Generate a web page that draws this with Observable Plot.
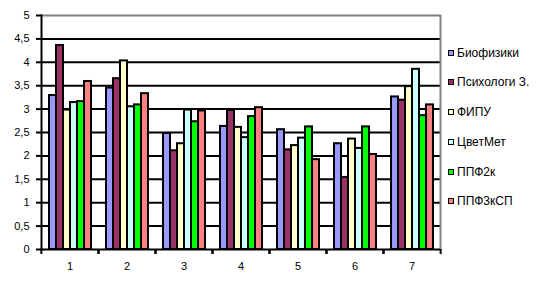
<!DOCTYPE html>
<html><head><meta charset="utf-8">
<script src="https://cdn.jsdelivr.net/npm/d3@7"></script>
<script src="https://cdn.jsdelivr.net/npm/@observablehq/plot@0.6"></script>
<style>
body{margin:0;background:#fff}
#wrap{position:relative;width:547px;height:285px;font-family:"Liberation Sans",Arial,sans-serif}
#legend{position:absolute;left:448px;top:0}
.item{position:absolute;left:0;height:14px;margin-top:-7px;display:flex;align-items:center;white-space:nowrap;font-size:12px;color:#000}
.sw{width:4px;height:4px;border:1.5px solid #000;margin-right:3px}
</style></head><body><div id="wrap"></div>
<script>
const groups = ["1","2","3","4","5","6","7"];
const series = ["Биофизики","Психологи З.","ФИПУ","ЦветМет","ППФ2к","ППФ3кСП"];
const colors = ["#9999FF","#993366","#FFFFCC","#CCFFFF","#00FF00","#FF8080"];
const biofiziki = [3.29,3.45,2.48,2.63,2.56,2.26,3.26];
const psikhologi = [4.36,3.65,2.11,2.97,2.13,1.54,3.19];
const fipu = [2.98,4.03,2.26,2.61,2.22,2.36,3.48];
const tsvetmet = [3.14,3.05,2.98,2.39,2.38,2.16,3.85];
const ppf2k = [3.16,3.09,2.73,2.84,2.62,2.62,2.86];
const ppf3ksp = [3.59,3.33,2.96,3.03,1.92,2.03,3.09];
const yTicks = [0,0.5,1,1.5,2,2.5,3,3.5,4,4.5,5];

const valuesBySeries = [biofiziki,psikhologi,fipu,tsvetmet,ppf2k,ppf3ksp];
const data = [];
groups.forEach((g,gi)=>series.forEach((s,si)=>data.push({group:g,series:s,value:valuesBySeries[si][gi]})));

const W=547,H=285,ML=40,MR=106,MT=15,MB=36;
const step=(W-ML-MR)/groups.length;
const fmt = d=>String(d).replace(".",",");

const chart = Plot.plot({
  width:W,height:H,marginLeft:ML,marginRight:MR,marginTop:MT,marginBottom:MB,
  style:{fontFamily:"Liberation Sans, Arial, sans-serif",fontSize:"11px",color:"#000",background:"#fff"},
  fx:{domain:groups,padding:0,label:null},
  x:{domain:series,paddingInner:0,paddingOuter:0.68,axis:null},
  y:{domain:[0,5],label:null},
  color:{domain:series,range:colors},
  marks:[
    Plot.ruleY(yTicks.filter(v=>v>0&&v<5),{stroke:"#000",strokeWidth:2}),
    Plot.ruleY([5],{stroke:"#808080",strokeWidth:2}),
    Plot.frame({anchor:"right",stroke:"#808080",strokeWidth:2,facetAnchor:"right"}),
    Plot.barY(data,{fx:"group",x:"series",y:"value",fill:"series",stroke:"#000",strokeWidth:2}),
    Plot.ruleY([0],{stroke:"#000",strokeWidth:2}),
    Plot.frame({anchor:"left",stroke:"#000",strokeWidth:2,facetAnchor:"left"}),
    Plot.axisY({ticks:yTicks,tickSize:5,tickPadding:7,strokeWidth:2,tickFormat:fmt,label:null}),
    Plot.axisFx({anchor:"bottom",tickSize:0,tickPadding:13,label:null}),
    Plot.axisFx({anchor:"bottom",tickSize:5,dx:-step/2,strokeWidth:2,tickFormat:()=>"",label:null}),
    Plot.axisFx({anchor:"bottom",tickSize:5,dx:step/2,strokeWidth:2,tickFormat:()=>"",label:null})
  ]
});
const wrap=document.getElementById("wrap");
wrap.appendChild(chart);
const legend=document.createElement("div");
legend.id="legend";
series.forEach((s,i)=>{
  const it=document.createElement("div");
  it.className="item";
  it.style.top=(52.7+i*29.7)+"px";
  const sw=document.createElement("span");
  sw.className="sw";sw.style.background=colors[i];
  const t=document.createElement("span");t.textContent=s;
  it.appendChild(sw);it.appendChild(t);legend.appendChild(it);
});
wrap.appendChild(legend);
</script></body></html>
